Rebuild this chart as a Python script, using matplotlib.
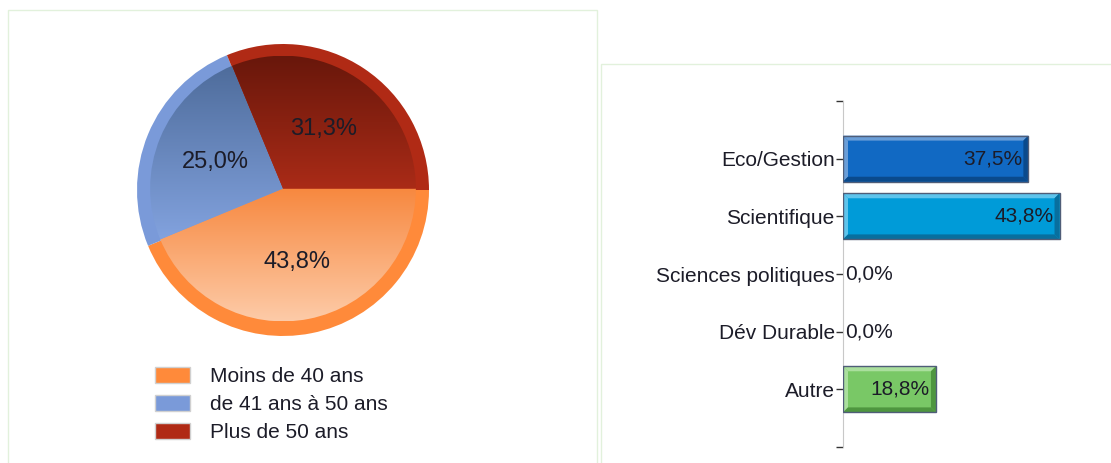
import numpy as np
import matplotlib
matplotlib.use("Agg")
import matplotlib.pyplot as plt
from matplotlib.patches import Wedge, Rectangle, Polygon
from matplotlib.colors import LinearSegmentedColormap

plt.rcParams['font.family'] = ['Liberation Sans', 'DejaVu Sans']

# --- données ---
age_labels = ['Moins de 40 ans', 'de 41 ans à 50 ans', 'Plus de 50 ans']
age_values = [43.8, 25.0, 31.3]
age_rim = ['#FF8A3A', '#7A9AD9', '#B02A15']
age_grad = [('#F7883F', '#FDCBA8'), ('#4E6C9B', '#82A2DE'), ('#68170B', '#AA2B17')]

filieres = ['Eco/Gestion', 'Scientifique', 'Sciences politiques', 'Dév Durable', 'Autre']
filiere_values = [37.5, 43.8, 0.0, 0.0, 18.8]
bar_fill = ['#1169C3', '#009BD8', '#888888', '#888888', '#79C866']
bar_light = ['#6A9ED8', '#5EC4EC', '#aaaaaa', '#aaaaaa', '#AADF9D']
bar_dark = ['#0A4A8C', '#086F9E', '#555555', '#555555', '#4E963F']

TXT = '#1c1c28'
W, H = 1111, 463


def fmt(v):
    return f"{v:.1f}".replace('.', ',') + '%'


fig = plt.figure(figsize=(W / 100, H / 100), dpi=100)
fig.patch.set_facecolor('white')

# cadres des deux panneaux
fig.add_artist(Rectangle((8 / W, -0.05), (597 - 8) / W, 1.05 - 10 / H,
                         transform=fig.transFigure, fill=False,
                         edgecolor='#e2f1dc', linewidth=1))
fig.add_artist(Rectangle((601 / W, -0.05), 1.0, 1.05 - 64 / H,
                         transform=fig.transFigure, fill=False,
                         edgecolor='#e2f1dc', linewidth=1))

# --- camembert ---
r_px = 146
cx, cy = 283, 190
ax1 = fig.add_axes([(cx - r_px) / W, 1 - (cy + r_px) / H, 2 * r_px / W, 2 * r_px / H])
wedges, _ = ax1.pie(age_values, colors=age_rim, startangle=0, counterclock=False,
                    radius=1.0, wedgeprops=dict(linewidth=0))
ax1.set_xlim(-1, 1)
ax1.set_ylim(-1, 1)
ax1.set_aspect('equal')
ax1.axis('off')

inner_r = 0.91
for w, (c_top, c_bot) in zip(wedges, age_grad):
    inner = Wedge((0, 0.01), inner_r, w.theta1, w.theta2, facecolor='none',
                  edgecolor='none')
    ax1.add_patch(inner)
    ext = inner.get_path().get_extents()
    cmap = LinearSegmentedColormap.from_list('g', [c_top, c_bot])
    grad = np.linspace(0, 1, 256).reshape(-1, 1)
    im = ax1.imshow(grad, cmap=cmap, aspect='auto',
                    extent=[ext.x0, ext.x1, ext.y0, ext.y1], origin='upper',
                    zorder=2)
    im.set_clip_path(inner)

for w, v in zip(wedges, age_values):
    mid = np.deg2rad((w.theta1 + w.theta2) / 2)
    ax1.text(0.5 * np.cos(mid), 0.5 * np.sin(mid), fmt(v), ha='center', va='center',
             fontsize=17, color=TXT, zorder=5)

leg = fig.legend(wedges, age_labels, loc='upper left',
                 bbox_to_anchor=(155 / W, 1 - 367 / H), frameon=False,
                 fontsize=15, handlelength=1.68, handleheight=0.82,
                 handletextpad=0.95, labelspacing=0.42, borderpad=0,
                 borderaxespad=0)
for t in leg.get_texts():
    t.set_color(TXT)
for h in leg.legend_handles:
    h.set_edgecolor('#d0d0d0')
    h.set_linewidth(1)

# --- barres ---
ax_l, ax_r, ax_t, ax_b = 843, 1105, 101, 447
ax2 = fig.add_axes([ax_l / W, 1 - ax_b / H, (ax_r - ax_l) / W, (ax_b - ax_t) / H])
pos = np.arange(len(filieres))
xmax = 53
ax2.set_xlim(0, xmax)
ax2.set_ylim(len(filieres), -1)
bh = 0.8
bars = ax2.barh(pos, filiere_values, height=bh, color=bar_fill,
                linewidth=0, zorder=3)

px_x = xmax / (ax_r - ax_l)
px_y = (len(filieres) + 1) / (ax_b - ax_t)
b = 5
for rect, lc, dc in zip(bars, bar_light, bar_dark):
    w = rect.get_width()
    if w <= 0:
        continue
    x0, x1 = 0, w
    yt, yb = rect.get_y(), rect.get_y() + rect.get_height()
    bx, by = b * px_x, b * px_y
    top = [(x0, yt), (x1, yt), (x1 - bx, yt + by), (x0 + bx, yt + by)]
    left = [(x0, yt), (x0 + bx, yt + by), (x0 + bx, yb - by), (x0, yb)]
    right = [(x1, yt), (x1, yb), (x1 - bx, yb - by), (x1 - bx, yt + by)]
    bottom = [(x0, yb), (x1, yb), (x1 - bx, yb - by), (x0 + bx, yb - by)]
    for pts, c in ((top, lc), (left, lc), (right, dc), (bottom, dc)):
        ax2.add_patch(Polygon(pts, closed=True, facecolor=c, edgecolor='none',
                              zorder=4))
    ax2.add_patch(Rectangle((x0, yt), w, rect.get_height(), fill=False,
                            edgecolor='#4f5d78', linewidth=1, zorder=5))

for p, v in zip(pos, filiere_values):
    if v > 0:
        ax2.text(v - 6 * px_x, p, fmt(v), ha='right', va='center', fontsize=15,
                 color=TXT, zorder=6)
    else:
        ax2.text(2 * px_x, p, fmt(v), ha='left', va='center', fontsize=15,
                 color=TXT, zorder=6)

ax2.set_yticks([-1] + list(pos) + [len(filieres)])
ax2.set_yticklabels([''] + filieres + [''], fontsize=15, color=TXT)
ax2.tick_params(axis='y', length=5, width=1, color='#333333', pad=1)
ax2.xaxis.set_visible(False)
for s in ['top', 'right', 'bottom']:
    ax2.spines[s].set_visible(False)
ax2.spines['left'].set_color('#c8c8c8')
ax2.patch.set_alpha(0)

fig.savefig('out.png', dpi=100)
